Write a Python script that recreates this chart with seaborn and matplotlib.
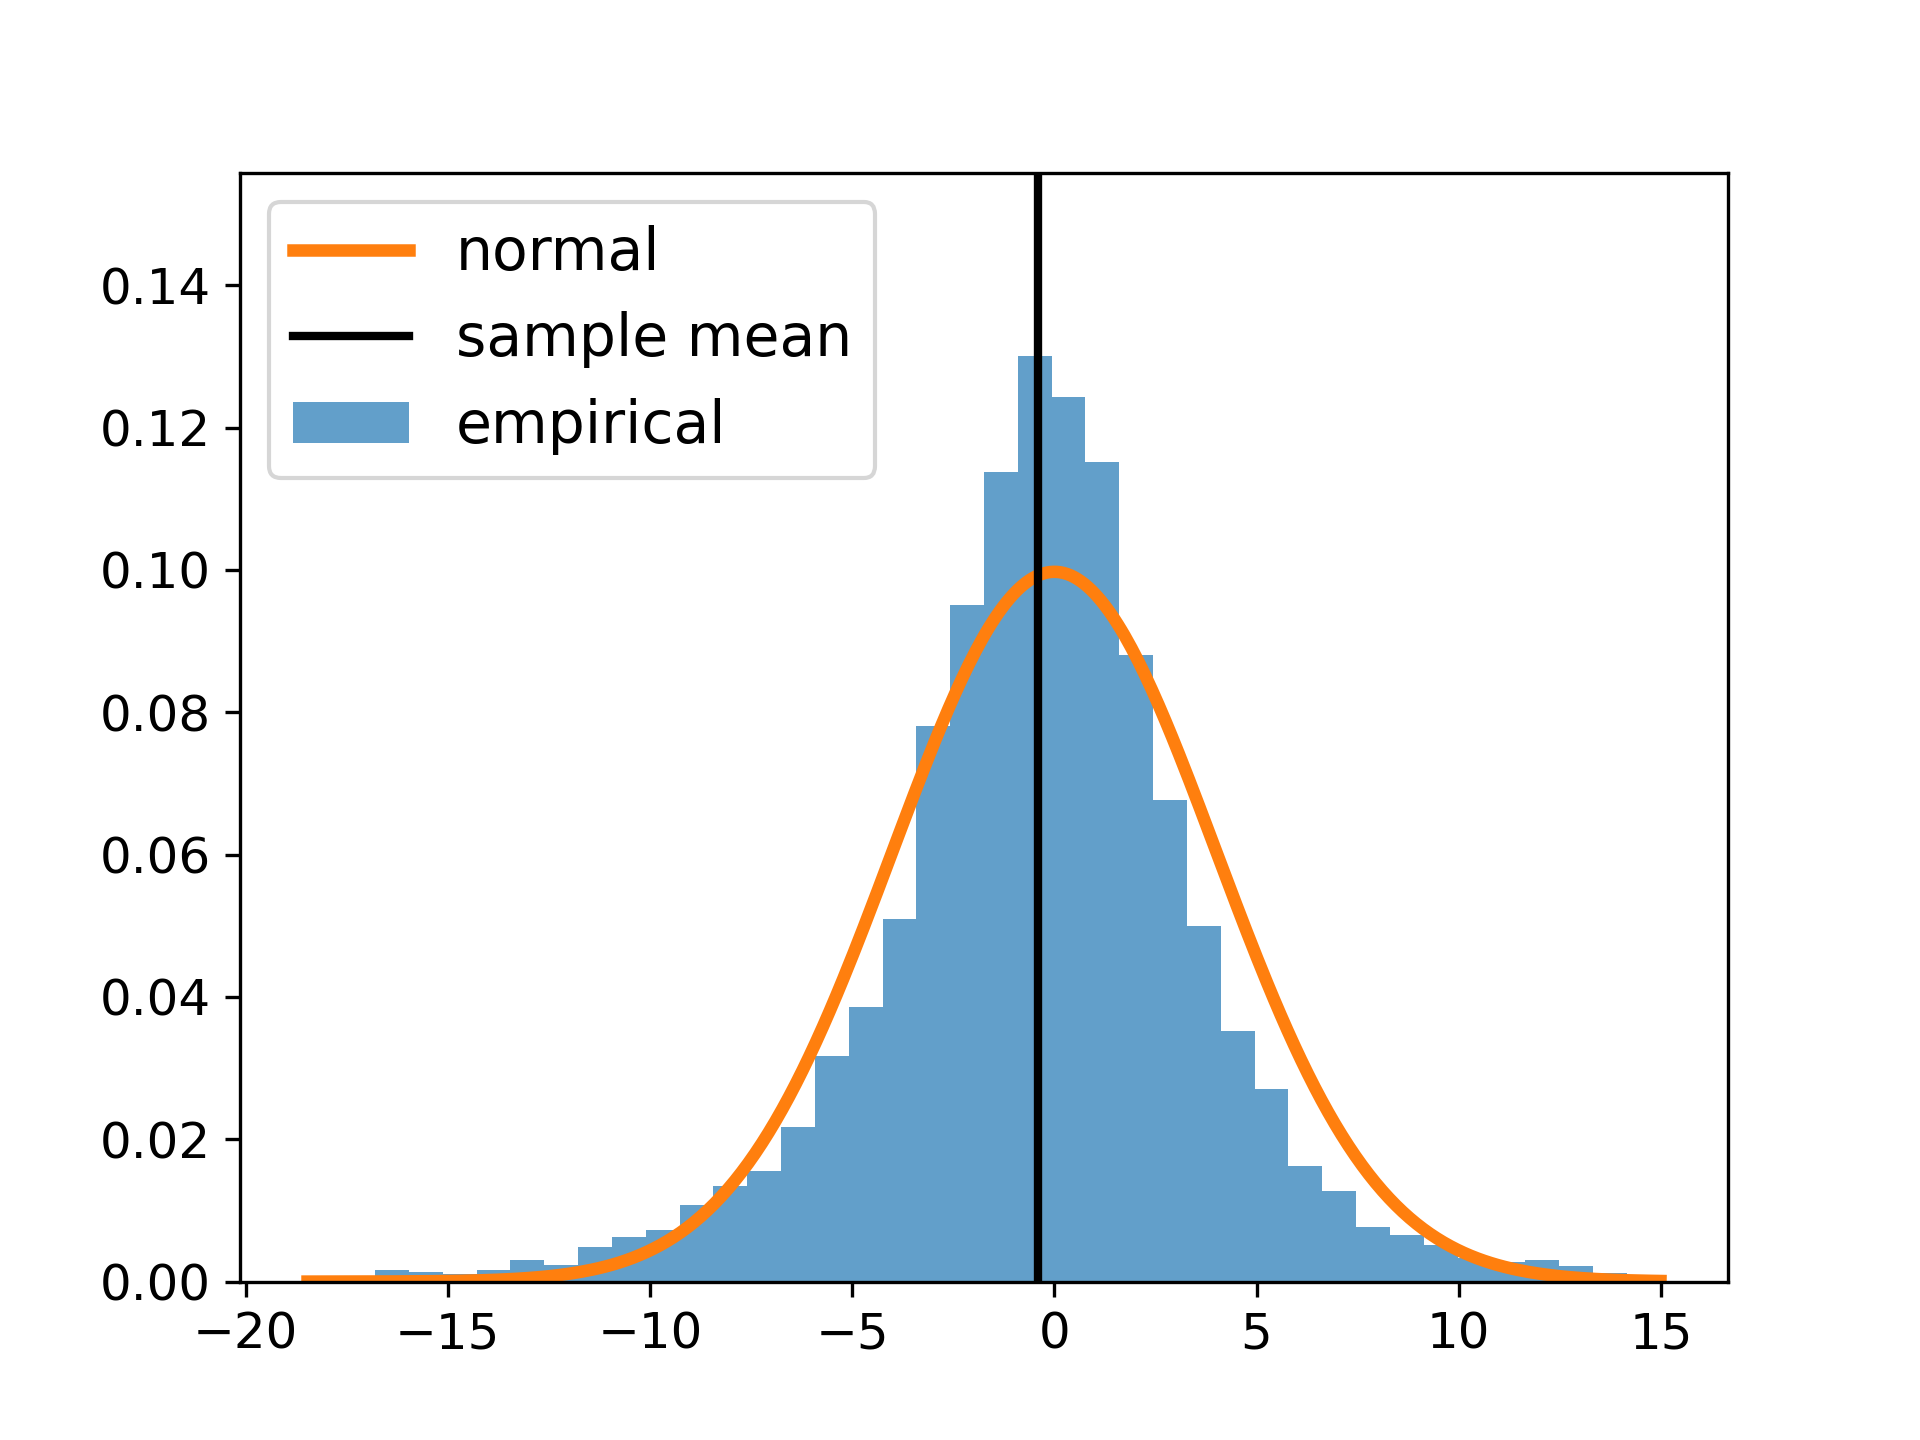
import numpy as np
import pandas as pd
import matplotlib
matplotlib.use("Agg")
import matplotlib.pyplot as plt
import seaborn as sns
from matplotlib.patches import Patch

# histogram: 40 equal bins between the sample min and max
hist_lo = -18.47
hist_hi = 14.99
n_bins = 40
densities = [
    0.0003, 0.0005, 0.0017, 0.0014, 0.0011, 0.0017, 0.0030, 0.0024, 0.0049, 0.0063,
    0.0073, 0.0108, 0.0134, 0.0156, 0.0217, 0.0317, 0.0386, 0.0510, 0.0780, 0.0951,
    0.1137, 0.1300, 0.1243, 0.1151, 0.0880, 0.0677, 0.0499, 0.0352, 0.0271, 0.0162,
    0.0128, 0.0077, 0.0065, 0.0051, 0.0033, 0.0028, 0.0031, 0.0022, 0.0012, 0.0009,
]

# fitted normal and sample mean
normal_mu = 0.0
normal_sigma = 4.0
sample_mean = -0.40

plt.rcParams['font.size'] = 12

edges = np.linspace(hist_lo, hist_hi, n_bins + 1)
df = pd.DataFrame({'value': (edges[:-1] + edges[1:]) / 2, 'density': densities})

fig, ax = plt.subplots(figsize=(6.4, 4.8), dpi=300)

sns.histplot(data=df, x='value', weights='density', bins=n_bins,
             binrange=(hist_lo, hist_hi), stat='count',
             color='C0', alpha=0.7, linewidth=0, ax=ax)

xs = np.linspace(hist_lo, hist_hi, 400)
pdf = np.exp(-0.5 * ((xs - normal_mu) / normal_sigma) ** 2) / (normal_sigma * np.sqrt(2 * np.pi))
sns.lineplot(x=xs, y=pdf, color='C1', linewidth=3, ax=ax)
ax.axvline(sample_mean, color='k', linewidth=2)

ax.set_xlim(-20.14, 16.66)
ax.set_ylim(0, 0.1558)
ax.set_xlabel('')
ax.set_ylabel('')

handles = [
    plt.Line2D([], [], color='C1', linewidth=3),
    plt.Line2D([], [], color='k', linewidth=2),
    Patch(facecolor='C0', alpha=0.7, linewidth=0),
]
ax.legend(handles, ['normal', 'sample mean', 'empirical'],
          loc='upper left', fontsize=14)

fig.savefig('out.png', dpi=300)
